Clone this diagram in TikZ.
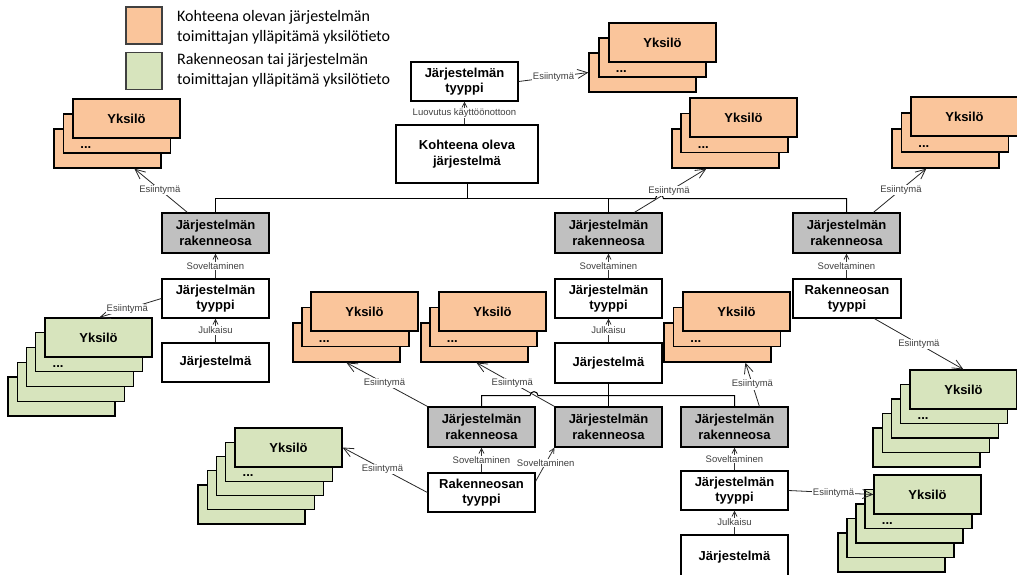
\documentclass[tikz,border=0pt]{standalone}
\usepackage{fontspec}
\setmainfont{Liberation Sans}
\newfontfamily\legfont{Carlito}
\usetikzlibrary{arrows.meta,calc}

\definecolor{peach}{HTML}{FAC59B}
\definecolor{sage}{HTML}{D7E4BD}
\definecolor{boxgray}{HTML}{C0C0C0}

% A pile of instance cards: #1 name, #2/#3 top-left of the front card,
% #4/#5 offset of each card behind, #6 number of cards, #7 fill colour
\newcommand\ykstack[7]{%
  \foreach \k in {#6,...,1}{
    \node[ykbox, fill=#7] (#1-\k) at ({#2+(\k-1)*#4+53.5},{#3+(\k-1)*#5+19.5}) {};
  }
  \node[yktext] (#1-t) at (#1-1) {Yksilö};
  \node[yktext] (#1-d) at ($(#1-2.south west)+(23,-6)$) {...};
}

\begin{document}
\begin{tikzpicture}[x=1pt,y=-1pt,
  ykbox/.style={draw, line width=1.2pt, minimum width=107pt, minimum height=39pt, inner sep=0pt},
  yktext/.style={inner sep=0pt, font=\bfseries\fontsize{13}{15}\selectfont},
  box/.style={draw, line width=1.2pt, minimum width=107pt, minimum height=39pt, inner sep=1pt,
    align=center, font=\bfseries\fontsize{13}{15.5}\selectfont},
  wbox/.style={box, fill=white},
  gbox/.style={box, fill=boxgray},
  lbl/.style={fill=white, inner sep=0.6pt, font=\fontsize{9.5}{11}\selectfont, text=black!75},
  ess/.style={draw=black!85, line width=0.8pt, -{Straight Barb[length=10pt,width=9pt]}},
  app/.style={draw=black!80, line width=0.8pt, -{Straight Barb[length=5pt,width=5pt]}},
  tree/.style={draw=black, line width=1pt},
  legsq/.style={draw=black!75, line width=1.2pt, minimum width=36pt, minimum height=37pt, inner sep=0pt},
  legtxt/.style={anchor=west, align=left, inner sep=0pt, font=\legfont\fontsize{16}{20}\selectfont}
]
\useasboundingbox (0,0) rectangle (1017,574);
\clip (0,0) rectangle (1017,574);

% legend
\node[legsq, fill=peach] (legO) at (144,25.5) {};
\node[legsq, fill=sage] (legG) at (144,71) {};
\node[legtxt] (legOt) at (177,27) {Kohteena olevan järjestelmän\\toimittajan ylläpitämä yksilötieto};
\node[legtxt] (legGt) at (177,70) {Rakenneosan tai järjestelmän\\toimittajan ylläpitämä yksilötieto};

% instance piles
\ykstack{sA}{73}{99}{-9.5}{15}{3}{peach}
\ykstack{sB}{609}{23}{-10}{15}{3}{peach}
\ykstack{sC}{690}{98}{-9}{15.5}{3}{peach}
\ykstack{sD}{911}{97}{-9.5}{16}{3}{peach}
\ykstack{sF}{311}{292}{-9}{15.5}{3}{peach}
\ykstack{sG}{439}{292}{-9}{15.5}{3}{peach}
\ykstack{sH}{683}{292}{-9.5}{15.5}{3}{peach}
\ykstack{sE}{45}{318}{-9.25}{14.75}{5}{sage}
\ykstack{sI}{910}{370}{-9.25}{14.5}{5}{sage}
\ykstack{sJ}{235}{428}{-9.25}{14.25}{5}{sage}
\ykstack{sK}{874}{475}{-9}{14.5}{5}{sage}

% system and component boxes
\node[wbox, minimum width=142pt, minimum height=58pt] (ko) at (467,154) {Kohteena oleva\\järjestelmä};
\node[wbox] (jt0) at (464.5,81.5) {Järjestelmän\\tyyppi};

\node[gbox, minimum height=40pt] (rL) at (215.5,233) {Järjestelmän\\rakenneosa};
\node[gbox, minimum height=40pt] (rC) at (608.5,233) {Järjestelmän\\rakenneosa};
\node[gbox, minimum height=40pt] (rR) at (846.5,233) {Järjestelmän\\rakenneosa};

\node[wbox] (jtL) at (215.5,298.5) {Järjestelmän\\tyyppi};
\node[wbox] (jL) at (215.5,362.5) {Järjestelmä};
\node[wbox] (jtC) at (608.5,298.5) {Järjestelmän\\tyyppi};
\node[wbox, minimum height=40pt] (jC) at (608.5,363) {Järjestelmä};
\node[wbox, minimum width=108pt] (rtR) at (847,298.5) {Rakenneosan\\tyyppi};

\node[gbox, minimum height=40pt] (rB1) at (481.5,427) {Järjestelmän\\rakenneosa};
\node[gbox, minimum height=40pt] (rB2) at (608.5,427) {Järjestelmän\\rakenneosa};
\node[gbox, minimum height=40pt] (rB3) at (734.5,427) {Järjestelmän\\rakenneosa};

\node[wbox] (rtB) at (481.5,492.5) {Rakenneosan\\tyyppi};
\node[wbox] (jtB) at (734.5,490.5) {Järjestelmän\\tyyppi};
\node[wbox, minimum height=44pt] (jB) at (734.5,557) {Järjestelmä};

% composition tree under the target system
\coordinate (busA) at ($(ko.south)+(0,15)$);
\draw[tree] (ko.south) -- (busA);
\draw[tree] (rL.north) |- (busA) -| (rC.north);
\draw[tree] (rC.north |- busA) -- ++(47,0) arc[start angle=180, end angle=0, radius=4pt] -| (rR.north);

% composition tree under the middle system
\coordinate (busB) at ($(jC.south)+(0,12)$);
\draw[tree] (jC.south) -- (rB2.north);
\draw[tree] (rB1.north) |- ($(busB)+(-78.5,0)$) arc[start angle=180, end angle=0, radius=4pt] -- (busB) -| (rB3.north);

% application, release and hand-over links
\draw[app] (ko.north -| jt0.south) -- node[lbl] {Luovutus käyttöönottoon} (jt0.south);
\draw[app] (jtL.north) -- node[lbl] {Soveltaminen} (rL.south);
\draw[app] (jL.north) -- node[lbl] {Julkaisu} (jtL.south);
\draw[app] (jtC.north) -- node[lbl] {Soveltaminen} (rC.south);
\draw[app] (jC.north) -- node[lbl] {Julkaisu} (jtC.south);
\draw[app] (rtR.north -| rR.south) -- node[lbl] {Soveltaminen} (rR.south);
\draw[app] (rtB.north) -- node[lbl] {Soveltaminen} (rB1.south);
\draw[app] ($(rtB.north east)+(0,9)$) -- node[lbl, pos=0.54] {Soveltaminen} (rB2.south west);
\draw[app] (jtB.north) -- node[lbl] {Soveltaminen} (rB3.south);
\draw[app] (jB.north) -- node[lbl] {Julkaisu} (jtB.south);

% instance links
\draw[ess] ($(rL.north west)+(26,0)$) -- node[lbl, pos=0.52] {Esiintymä} ($(sA-3.south west)+(81,0)$);
\draw[ess] (jt0.east) -- node[lbl] {Esiintymä} (sB-3.west);
\draw[ess] ($(rC.north west)+(80,0)$) -- node[lbl, pos=0.48] {Esiintymä} ($(sC-3.south west)+(35,0)$);
\draw[ess] ($(rR.north west)+(81,0)$) -- node[lbl, pos=0.52] {Esiintymä} ($(sD-3.south west)+(35,0)$);
\draw[ess] (jtL.west) -- node[lbl, pos=0.55] {Esiintymä} ($(sE-1.north west)+(55,0)$);
\draw[ess] ($(rtR.south west)+(82,0)$) -- node[lbl] {Esiintymä} ($(sI-1.north west)+(54,0)$);
\draw[ess] (rB1.north west) -- node[lbl, pos=0.53] {Esiintymä} ($(sF-3.south west)+(54,0)$);
\draw[ess] (rB2.north west) -- node[lbl, pos=0.54] {Esiintymä} ($(sG-3.south west)+(56,0)$);
\draw[ess] ($(rB3.north west)+(79,0)$) -- node[lbl] {Esiintymä} ($(sH-3.south west)+(82,0)$);
\draw[ess] (rtB.west) -- node[lbl, pos=0.53] {Esiintymä} (sJ-1.east);
\draw[ess] (jtB.east) -- node[lbl, pos=0.53] {Esiintymä} (sK-1.west);
\end{tikzpicture}
\end{document}
